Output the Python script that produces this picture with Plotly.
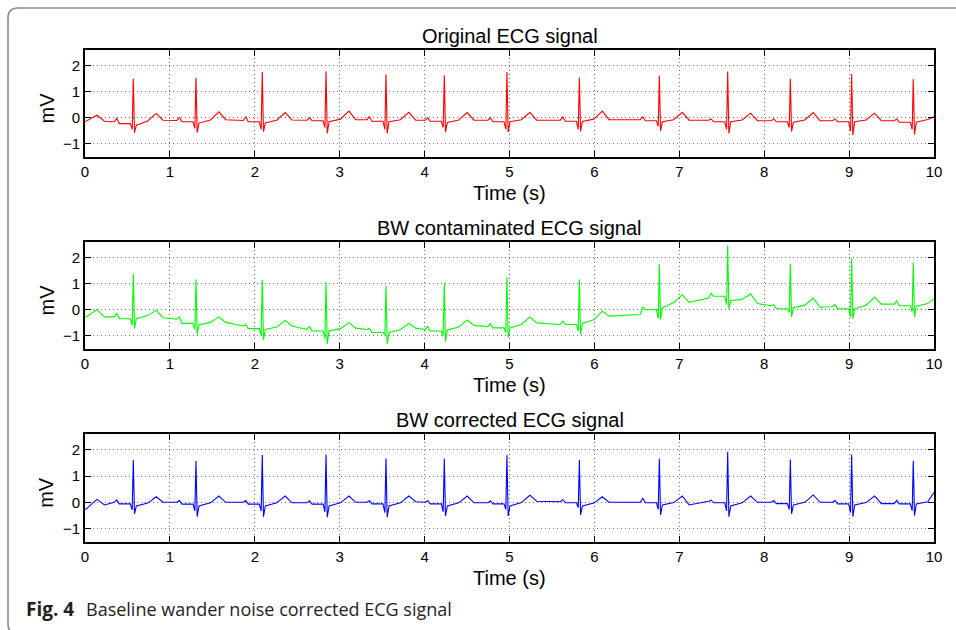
import plotly.graph_objects as go

W, H = 956, 630

# ---------------------------------------------------------------------------
# Data: R-peak instants (s) of the beats in the 10 s record
r_times = [0.569, 1.307, 2.088, 2.839, 3.545, 4.232, 4.970, 5.823,
           6.765, 7.570, 8.308, 9.030, 9.756]

# Start of record (tail of the preceding T wave): sample times
lead_t = [0.0, 0.14, 0.23]

# --- Original ECG (mV) per beat: isoelectric, P, PR level, Q, R, S, J, T onset, T, after-T
orig_lead = [-0.15, 0.10, -0.13]
orig_iso = [-0.15, -0.10, -0.10, -0.09, -0.07, -0.09, -0.09, -0.09, -0.07, -0.09, -0.11, -0.11, -0.11]
orig_p   = [-0.02, 0.01, 0.04, 0.01, 0.04, 0.00, 0.00, 0.03, 0.04, -0.04, -0.04, -0.04, -0.04]
orig_pq  = [-0.22, -0.15, -0.15, -0.11, -0.13, -0.13, -0.15, -0.13, -0.11, -0.15, -0.15, -0.15, -0.17]
orig_q   = [-0.44, -0.40, -0.44, -0.37, -0.44, -0.37, -0.44, -0.44, -0.32, -0.44, -0.37, -0.50, -0.44]
orig_r   = [1.50, 1.54, 1.76, 1.79, 1.67, 1.63, 1.76, 1.54, 1.62, 1.78, 1.50, 1.67, 1.48]
orig_s   = [-0.57, -0.57, -0.53, -0.60, -0.60, -0.55, -0.55, -0.52, -0.50, -0.60, -0.52, -0.66, -0.63]
orig_st  = [-0.28, -0.20, -0.20, -0.15, -0.15, -0.18, -0.15, -0.14, -0.15, -0.15, -0.17, -0.15, -0.17]
orig_ton = [-0.12, -0.08, -0.09, -0.05, -0.07, -0.08, -0.07, -0.05, -0.07, -0.08, -0.08, -0.08, -0.06]
orig_tw  = [0.17, 0.23, 0.20, 0.26, 0.21, 0.20, 0.21, 0.26, 0.21, 0.18, 0.20, 0.18, None]
orig_tp  = [-0.09, -0.07, -0.08, -0.07, -0.09, -0.09, -0.09, -0.07, -0.09, -0.11, -0.11, -0.11, None]
orig_end = 0.04

# --- Baseline-wander contaminated ECG (mV)
bw_lead = [-0.30, 0.01, -0.27]
bw_iso = [-0.27, -0.36, -0.62, -0.75, -0.75, -0.75, -0.64, -0.56, -0.18, 0.45, 0.16, 0.12, 0.22]
bw_p   = [-0.14, -0.28, -0.55, -0.64, -0.71, -0.64, -0.53, -0.43, 0.11, 0.64, 0.20, 0.20, 0.35]
bw_pq  = [-0.34, -0.52, -0.72, -0.81, -0.87, -0.81, -0.69, -0.56, 0.01, 0.52, 0.04, 0.04, 0.16]
bw_q   = [-0.59, -0.75, -1.00, -1.10, -0.97, -1.00, -0.87, -0.81, -0.34, 0.20, -0.09, -0.27, -0.09]
bw_r   = [1.37, 1.17, 1.15, 1.06, 0.92, 1.02, 1.25, 1.17, 1.75, 2.47, 1.78, 1.97, 1.82]
bw_s   = [-0.71, -0.94, -1.15, -1.31, -1.31, -1.21, -1.06, -0.94, -0.37, 0.04, -0.27, -0.34, -0.27]
bw_st  = [-0.34, -0.57, -0.75, -0.81, -0.87, -0.77, -0.69, -0.52, 0.08, 0.36, 0.08, 0.04, 0.14]
bw_ton = [-0.22, -0.48, -0.66, -0.72, -0.76, -0.66, -0.56, -0.38, 0.28, 0.40, 0.18, 0.18, 0.24]
bw_tw  = [-0.01, -0.27, -0.41, -0.49, -0.52, -0.39, -0.27, -0.05, 0.58, 0.62, 0.45, 0.49, None]
bw_tp  = [-0.30, -0.48, -0.62, -0.70, -0.70, -0.60, -0.50, -0.24, 0.29, 0.24, 0.10, 0.22, None]
bw_end = 0.42

# --- Baseline-wander corrected ECG (mV)
corr_lead = [-0.29, 0.11, -0.10]
corr_iso = [0.00, 0.00, 0.00, -0.02, 0.00, 0.00, -0.02, 0.02, 0.00, 0.04, 0.00, 0.00, -0.05]
corr_p   = [0.09, 0.07, 0.07, 0.06, 0.06, 0.06, 0.06, 0.10, 0.15, 0.08, 0.07, 0.07, 0.07]
corr_pq  = [-0.06, -0.07, -0.07, -0.07, -0.06, -0.06, -0.06, -0.02, -0.02, -0.02, -0.05, -0.06, -0.06]
corr_q   = [-0.29, -0.33, -0.33, -0.36, -0.39, -0.36, -0.27, -0.20, -0.27, -0.33, -0.27, -0.39, -0.32]
corr_r   = [1.61, 1.58, 1.80, 1.82, 1.67, 1.67, 1.80, 1.61, 1.67, 1.92, 1.63, 1.82, 1.58]
corr_s   = [-0.44, -0.55, -0.55, -0.57, -0.57, -0.52, -0.52, -0.48, -0.48, -0.55, -0.44, -0.55, -0.51]
corr_st  = [-0.14, -0.14, -0.14, -0.14, -0.14, -0.14, -0.14, -0.14, -0.10, -0.14, -0.10, -0.10, -0.06]
corr_ton = [-0.03, -0.02, -0.02, -0.02, -0.02, -0.02, -0.01, -0.03, -0.01, -0.02, 0.00, -0.01, 0.02]
corr_tw  = [0.21, 0.24, 0.24, 0.24, 0.24, 0.24, 0.27, 0.21, 0.24, 0.24, 0.28, 0.24, None]
corr_tp  = [0.00, 0.00, -0.02, 0.00, 0.02, -0.02, 0.04, 0.00, -0.10, 0.00, 0.00, -0.05, None]
corr_end = 0.37

x_ticks = list(range(0, 11))
y_ticks = [-1, 0, 1, 2]

panel_titles = ["Original ECG signal", "BW contaminated ECG signal", "BW corrected ECG signal"]
x_label = "Time (s)"
y_label = "mV"
caption_tag = "Fig. 4"
caption_text = "Baseline wander noise corrected ECG signal"

# ---------------------------------------------------------------------------
# Wave timing inside one beat, relative to the R peak (s)
BEAT_SHAPE = [("iso", -0.225), ("p", -0.195), ("pq", -0.165), ("pq", -0.035),
              ("q", -0.013), ("r", 0.0), ("s", 0.014), ("st", 0.036),
              ("ton", 0.17), ("t", 0.27), ("tp", 0.35)]


def beat_polyline(lead_v, waves, end_v):
    ts, vs = list(lead_t), list(lead_v)
    for i, rt in enumerate(r_times):
        for key, off in BEAT_SHAPE:
            v = waves[key][i]
            t = rt + off
            if v is None or t >= 10:
                continue
            ts.append(round(t, 4))
            vs.append(v)
    ts.append(10.0)
    vs.append(end_v)
    return ts, vs


signals = [
    (beat_polyline(orig_lead, dict(iso=orig_iso, p=orig_p, pq=orig_pq, q=orig_q, r=orig_r, s=orig_s,
                                   st=orig_st, ton=orig_ton, t=orig_tw, tp=orig_tp), orig_end), "#ff0000"),
    (beat_polyline(bw_lead, dict(iso=bw_iso, p=bw_p, pq=bw_pq, q=bw_q, r=bw_r, s=bw_s,
                                 st=bw_st, ton=bw_ton, t=bw_tw, tp=bw_tp), bw_end), "#00ff00"),
    (beat_polyline(corr_lead, dict(iso=corr_iso, p=corr_p, pq=corr_pq, q=corr_q, r=corr_r, s=corr_s,
                                   st=corr_st, ton=corr_ton, t=corr_tw, tp=corr_tp), corr_end), "#0000ff"),
]

# ---------------------------------------------------------------------------
# Layout geometry (pixels)
X0, X1 = 85, 934
PANELS = [(50, 157), (242, 349), (434, 541.7)]


def px(x):
    return x / W


def py(y):
    return 1 - y / H


AXIS_FONT = "Liberation Sans, Arial, sans-serif"

fig = go.Figure()
layout = dict(
    template="none",
    width=W, height=H,
    margin=dict(l=0, r=0, t=0, b=0, pad=0, autoexpand=False),
    paper_bgcolor="white", plot_bgcolor="white",
    showlegend=False,
    font=dict(family=AXIS_FONT, size=15, color="black"),
)

annotations = []
for k, ((ts, vs), color) in enumerate(signals):
    n = "" if k == 0 else str(k + 1)
    xa, ya = "x" + n, "y" + n
    fig.add_trace(go.Scatter(x=ts, y=vs, mode="lines", xaxis=xa, yaxis=ya,
                             line=dict(color=color, width=1.1), hoverinfo="skip"))
    top, bot = PANELS[k]
    common = dict(showline=True, mirror="ticks", linecolor="black", linewidth=1.7,
                  ticks="inside", ticklen=6, tickwidth=1.3, tickcolor="black",
                  showgrid=True, gridcolor="#6e6e6e", gridwidth=1, griddash="1px,3px",
                  zeroline=False, automargin=False,
                  tickfont=dict(family=AXIS_FONT, size=15, color="black"))
    layout["xaxis" + n] = dict(common, domain=[px(X0), px(X1)], range=[0, 10],
                               tickvals=x_ticks, anchor=ya)
    layout["yaxis" + n] = dict(common, domain=[py(bot), py(top)], range=[-1.5, 2.6],
                               tickvals=y_ticks, anchor=xa)
    cx = (X0 + X1) / 2
    annotations.append(dict(text=panel_titles[k], x=px(cx), y=py(top - 14), xref="paper", yref="paper",
                            xanchor="center", yanchor="middle", showarrow=False,
                            font=dict(family=AXIS_FONT, size=20, color="black")))
    annotations.append(dict(text=x_label, x=px(cx), y=py(bot + 36), xref="paper", yref="paper",
                            xanchor="center", yanchor="middle", showarrow=False,
                            font=dict(family=AXIS_FONT, size=20, color="black")))
    annotations.append(dict(text=y_label, x=px(46), y=py((top + bot) / 2 + 5), xref="paper", yref="paper",
                            xanchor="center", yanchor="middle", showarrow=False, textangle=-90,
                            font=dict(family=AXIS_FONT, size=20, color="black")))

CAP_FONT = "Open Sans, Noto Sans, sans-serif"
annotations.append(dict(text="<b>" + caption_tag + "</b>", x=px(24), y=py(609), xref="paper", yref="paper",
                        xanchor="left", yanchor="middle", showarrow=False,
                        font=dict(family=CAP_FONT, size=19, color="#231f20")))
annotations.append(dict(text=caption_text, x=px(84), y=py(609), xref="paper", yref="paper",
                        xanchor="left", yanchor="middle", showarrow=False,
                        font=dict(family=CAP_FONT, size=18, color="#231f20")))
layout["annotations"] = annotations

# Rounded panel frame around the whole figure
fx0, fy0, fx1, fy1, rad = 8, 8, 975, 634, 10
frame = (f"M {px(fx1)},{py(fy1)} L {px(fx0 + rad)},{py(fy1)} "
         f"Q {px(fx0)},{py(fy1)} {px(fx0)},{py(fy1 - rad)} "
         f"L {px(fx0)},{py(fy0 + rad)} Q {px(fx0)},{py(fy0)} {px(fx0 + rad)},{py(fy0)} "
         f"L {px(fx1)},{py(fy0)}")
layout["shapes"] = [dict(type="path", path=frame, xref="paper", yref="paper",
                         line=dict(color="#8a8a8a", width=1.6), layer="below")]

fig.update_layout(**layout)
fig.write_html("out.html")
